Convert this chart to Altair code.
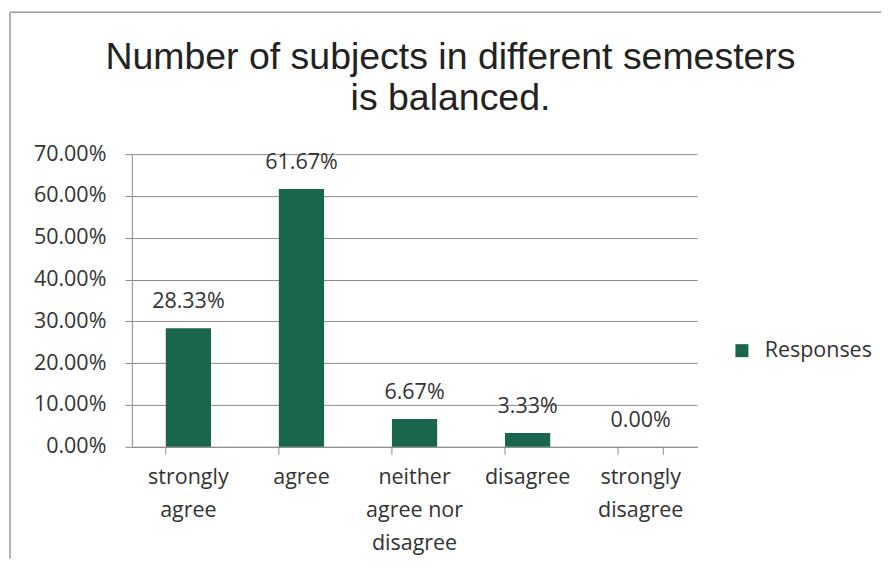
import json
import altair as alt
import pandas as pd

categories = ["strongly agree", "agree", "neither agree nor disagree", "disagree", "strongly disagree"]
label_lines = [["strongly", "agree"], ["agree"], ["neither", "agree nor", "disagree"], ["disagree"], ["strongly", "disagree"]]
values = [0.2833, 0.6167, 0.0667, 0.0333, 0.0]
series_name = "Responses"
title_lines = ["Number of subjects in different semesters", "is balanced."]
y_ticks = [0.0, 0.1, 0.2, 0.3, 0.4, 0.5, 0.6, 0.7]

df = pd.DataFrame({"category": categories, "value": values, "series": [series_name] * len(categories)})

BAR = "#1a654d"
TXT = "#333333"
GRID = "#8c8c8c"
FONT = "Open Sans"
FS = 21.5
W, H = 566, 293

label_map = {c: l for c, l in zip(categories, label_lines)}
label_expr = json.dumps(label_map) + "[datum.label]"

xscale = alt.Scale(domain=categories, paddingInner=0.6, paddingOuter=0.3)
yscale = alt.Scale(domain=[0, 0.7], nice=False)

base = alt.Chart(df)

bars = base.mark_bar(color=BAR).encode(
    x=alt.X("category:N", scale=xscale, sort=categories,
            axis=alt.Axis(title=None, labelAngle=0, labelExpr=label_expr, ticks=False,
                          labelFont=FONT, labelFontSize=FS, labelColor=TXT,
                          labelPadding=20, labelLineHeight=33, labelBaseline="top",
                          domainColor=GRID, labelLimit=200)),
    y=alt.Y("value:Q", scale=yscale,
            axis=alt.Axis(title=None, values=y_ticks, format=".2%", grid=True,
                          gridColor=GRID, gridWidth=1, domainColor=GRID, tickColor=GRID,
                          tickSize=7, labelPadding=19, labelFont=FONT, labelFontSize=FS,
                          labelColor=TXT, minExtent=118, maxExtent=118)),
    fill=alt.Fill("series:N", scale=alt.Scale(range=[BAR]),
                  legend=alt.Legend(title=None, orient="none", legendX=600, legendY=186,
                                    symbolType="square", symbolSize=169, symbolStrokeWidth=0,
                                    labelFont=FONT, labelFontSize=FS, labelColor=TXT,
                                    labelOffset=12)),
)

texts = base.mark_text(baseline="alphabetic", dy=-20, font=FONT, fontSize=FS, color=TXT).encode(
    x=alt.X("category:N", scale=xscale, sort=categories),
    y=alt.Y("value:Q", scale=yscale),
    text=alt.Text("value:Q", format=".2%"),
)

ticks_left = base.mark_rule(color=GRID, strokeWidth=1).encode(
    x=alt.X("category:N", scale=xscale, sort=categories, bandPosition=0),
    y=alt.value(H),
    y2=alt.value(H + 8),
)
ticks_right = alt.Chart(df.tail(1)).mark_rule(color=GRID, strokeWidth=1).encode(
    x=alt.X("category:N", scale=xscale, sort=categories, bandPosition=1),
    y=alt.value(H),
    y2=alt.value(H + 8),
)

frame_df = pd.DataFrame({"k": [0]})
frame_top = alt.Chart(frame_df).mark_rule(color="#9a9a9a", strokeWidth=1.5).encode(
    x=alt.value(-122), x2=alt.value(750), y=alt.value(-142)
)
frame_left = alt.Chart(frame_df).mark_rule(color="#9a9a9a", strokeWidth=1.5).encode(
    x=alt.value(-122), y=alt.value(-142), y2=alt.value(405)
)

chart = alt.layer(frame_top, frame_left, bars, ticks_left, ticks_right, texts).properties(
    width=W, height=H,
    padding={"left": 1, "top": 3, "right": 0, "bottom": 0},
    title=alt.Title(title_lines, font="Liberation Sans", fontSize=37.5, fontWeight="normal",
                    color="#222222", anchor="middle", lineHeight=41, offset=-106, dx=36),
).configure_view(stroke=None)

chart.save("out.html", embed_options={"renderer": "svg", "actions": False})
